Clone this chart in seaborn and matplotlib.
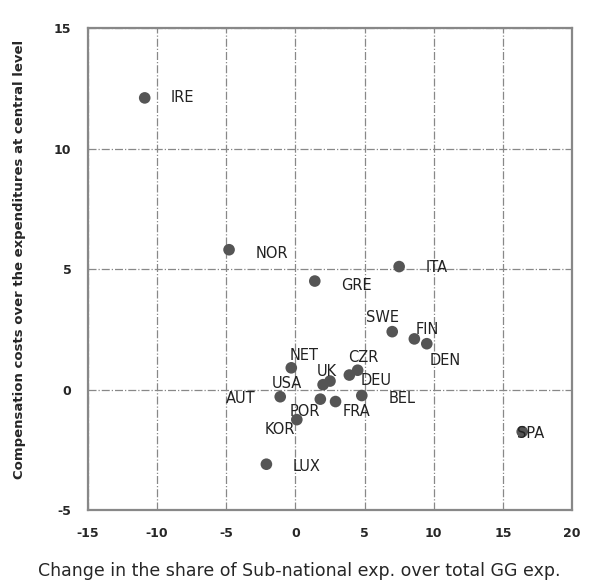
import pandas as pd
import seaborn as sns
import matplotlib.pyplot as plt

# country codes and values
countries = ['IRE', 'NOR', 'GRE', 'ITA', 'SWE', 'FIN', 'DEN', 'NET', 'CZR', 'DEU',
             'UK', 'USA', 'AUT', 'BEL', 'POR', 'FRA', 'KOR', 'LUX', 'SPA']
sub_nat_change = [-10.9, -4.8, 1.4, 7.5, 7.0, 8.6, 9.5, -0.3, 4.5, 3.9,
                  2.5, 2.0, -1.1, 4.8, 1.8, 2.9, 0.1, -2.1, 16.4]
comp_costs = [12.1, 5.8, 4.5, 5.1, 2.4, 2.1, 1.9, 0.9, 0.8, 0.6,
              0.35, 0.2, -0.3, -0.25, -0.4, -0.5, -1.25, -3.1, -1.75]

# label offsets in points (dx, dy, ha)
label_pos = {
    'IRE': (19, 0, 'left'), 'NOR': (19, -3, 'left'), 'GRE': (19, -3, 'left'),
    'ITA': (19, -1, 'left'), 'SWE': (-7, 10, 'center'), 'FIN': (1, 7, 'left'),
    'DEN': (2, -12, 'left'), 'NET': (9, 9, 'center'), 'CZR': (4, 9, 'center'),
    'DEU': (8, -4, 'left'), 'UK': (-2, 7, 'center'), 'USA': (-26, 1, 'center'),
    'AUT': (-18, -1, 'right'), 'BEL': (19, -2, 'left'), 'POR': (-11, -9, 'center'),
    'FRA': (5, -7, 'left'), 'KOR': (-12, -7, 'center'), 'LUX': (19, -2, 'left'),
    'SPA': (-4, -1, 'left'),
}

df = pd.DataFrame({'country': countries, 'x': sub_nat_change, 'y': comp_costs})

sns.set_style('white')
plt.rcParams['font.family'] = ['DejaVu Sans']
plt.rcParams['axes.unicode_minus'] = False

fig = plt.figure(figsize=(6, 5.81), dpi=100)
ax = fig.add_axes([0.1467, 0.1222, 0.8066, 0.8296])

sns.scatterplot(data=df, x='x', y='y', ax=ax, s=70, color='#555555',
                edgecolor='none', zorder=3, legend=False)

for _, row in df.iterrows():
    dx, dy, ha = label_pos[row['country']]
    ax.annotate(row['country'], (row['x'], row['y']), xytext=(dx, dy),
                textcoords='offset points', ha=ha, va='center',
                fontsize=10.5, color='#222222', zorder=4)

ax.set_xlim(-15, 20)
ax.set_ylim(-5, 15)
ax.set_xticks(range(-15, 21, 5))
ax.set_yticks(range(-5, 16, 5))
ax.grid(True, color='#888888', linestyle='-.', linewidth=0.9)
ax.tick_params(axis='both', length=0, labelsize=9, pad=12)
for lab in ax.get_xticklabels() + ax.get_yticklabels():
    lab.set_fontweight('bold')

for sp in ax.spines.values():
    sp.set_color('#888888')
    sp.set_linewidth(1.6)

ax.set_xlabel('Change in the share of Sub-national exp. over total GG exp.',
              fontsize=12.5)
ax.xaxis.set_label_coords(0.436, -0.108)
ax.set_ylabel('Compensation costs over the expenditures at central level',
              fontsize=9.5, fontweight='bold')
ax.yaxis.set_label_coords(-0.128, 0.52)

fig.savefig('out.png', dpi=100)
